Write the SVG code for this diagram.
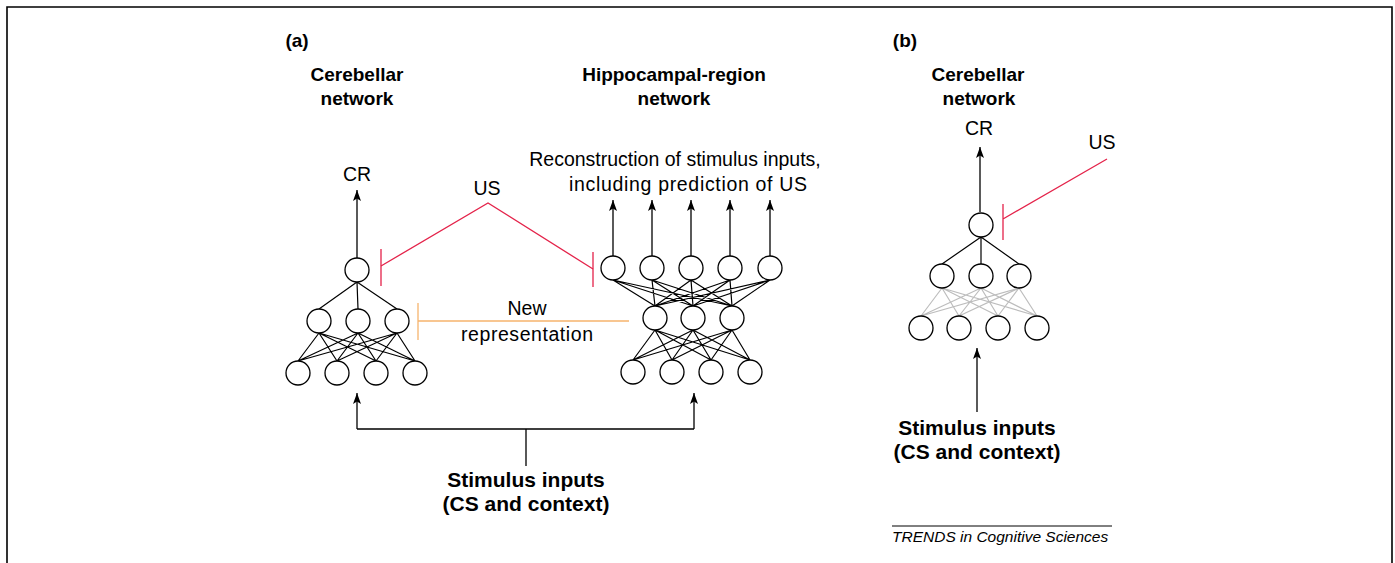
<svg xmlns="http://www.w3.org/2000/svg" width="1395" height="563" viewBox="0 0 1395 563">
  <defs>
    <style>
      .frame { fill: none; stroke: #000; stroke-width: 1.6; }
      .node { fill: #fff; stroke: #000; stroke-width: 1.3; }
      .wire { stroke: #000; stroke-width: 1.2; fill: none; }
      .wire-grey { stroke: #bdbdbd; stroke-width: 1.2; fill: none; }
      .arrow { stroke: #000; stroke-width: 1.3; fill: none; marker-end: url(#head); }
      .us { stroke: #e4234a; stroke-width: 1.3; fill: none; }
      .newrep { stroke: #f6b46e; stroke-width: 1.3; fill: none; }
      .title { font-family: "Liberation Sans", Arial, sans-serif; font-weight: bold; font-size: 19px; fill: #000; text-anchor: middle; }
      .label { font-family: "Liberation Sans", Arial, sans-serif; font-size: 19.5px; fill: #000; text-anchor: middle; }
      .input { font-family: "Liberation Sans", Arial, sans-serif; font-weight: bold; font-size: 21px; fill: #000; text-anchor: middle; }
      .credit { font-family: "Liberation Sans", Arial, sans-serif; font-style: italic; font-size: 15.5px; fill: #000; }
    </style>
    <marker id="head" markerUnits="userSpaceOnUse" markerWidth="12" markerHeight="10" refX="11" refY="4" orient="auto">
      <path d="M0,0 L11,4 L0,8 L2.5,4 z" fill="#000"/>
    </marker>
  </defs>

  <!-- outer border (open at the bottom edge) -->
  <path class="frame" d="M7,570 V7 H1392 V570"/>

  <!-- panel labels and titles -->
  <g id="labels">
    <text class="title" x="297" y="47">(a)</text>
    <text class="title" x="905" y="47">(b)</text>
    <text class="title" x="357" y="81">Cerebellar</text>
    <text class="title" x="357" y="105">network</text>
    <text class="title" x="674" y="81">Hippocampal-region</text>
    <text class="title" x="674" y="105">network</text>
    <text class="title" x="978" y="81">Cerebellar</text>
    <text class="title" x="979" y="105">network</text>
  </g>

  <!-- connectors -->
  <g id="connectors">
    <!-- (a) cerebellar: top to middle -->
    <path class="wire" d="M357,282 L319,309 M357,282 L358,309 M357,282 L397,309"/>
    <!-- (a) cerebellar: middle to bottom, all-to-all -->
    <path class="wire" d="M319,333 L298,361 M319,333 L337,361 M319,333 L376,361 M319,333 L415,361
                          M358,333 L298,361 M358,333 L337,361 M358,333 L376,361 M358,333 L415,361
                          M397,333 L298,361 M397,333 L337,361 M397,333 L376,361 M397,333 L415,361"/>
    <!-- (a) hippocampal: top row to middle, all-to-all -->
    <path class="wire" d="M613,280 L655,306 M613,280 L693,306 M613,280 L732,306
                          M652,280 L655,306 M652,280 L693,306 M652,280 L732,306
                          M691,280 L655,306 M691,280 L693,306 M691,280 L732,306
                          M730,280 L655,306 M730,280 L693,306 M730,280 L732,306
                          M770,280 L655,306 M770,280 L693,306 M770,280 L732,306"/>
    <!-- (a) hippocampal: middle to bottom, all-to-all -->
    <path class="wire" d="M655,330 L633,360 M655,330 L672,360 M655,330 L711,360 M655,330 L750,360
                          M693,330 L633,360 M693,330 L672,360 M693,330 L711,360 M693,330 L750,360
                          M732,330 L633,360 M732,330 L672,360 M732,330 L711,360 M732,330 L750,360"/>
    <!-- (a) outputs -->
    <line class="arrow" x1="357" y1="258" x2="357" y2="190"/>
    <line class="arrow" x1="613" y1="256" x2="613" y2="200"/>
    <line class="arrow" x1="652" y1="256" x2="652" y2="200"/>
    <line class="arrow" x1="691" y1="256" x2="691" y2="200"/>
    <line class="arrow" x1="730" y1="256" x2="730" y2="200"/>
    <line class="arrow" x1="770" y1="256" x2="770" y2="200"/>
    <!-- (a) US teaching signal to both networks -->
    <path class="us" d="M381,266 L488,203 L593,269"/>
    <path class="us" d="M381,249 V286 M593,252 V287"/>
    <!-- (a) new representation fed back to the cerebellum -->
    <path class="newrep" d="M418,321 H629 M418,303 V340"/>
    <!-- (a) shared stimulus inputs -->
    <path class="wire" d="M526,466 V429 M357,429 H694" style="stroke-width:1.3"/>
    <line class="arrow" x1="357" y1="429" x2="357" y2="393"/>
    <line class="arrow" x1="694" y1="429" x2="694" y2="393"/>

    <!-- (b) cerebellar: top to middle -->
    <path class="wire" d="M981,237 L942,264 M981,237 L981,264 M981,237 L1019,264"/>
    <!-- (b) cerebellar: middle to bottom (grey) -->
    <path class="wire-grey" d="M942,288 L921,316 M942,288 L959,316 M942,288 L998,316 M942,288 L1037,316
                               M981,288 L921,316 M981,288 L959,316 M981,288 L998,316 M981,288 L1037,316
                               M1019,288 L921,316 M1019,288 L959,316 M1019,288 L998,316 M1019,288 L1037,316"/>
    <line class="arrow" x1="980" y1="212" x2="980" y2="147"/>
    <path class="us" d="M1107,159 L1003,219 M1003,204 V240"/>
    <line class="arrow" x1="977" y1="412" x2="977" y2="348"/>
  </g>

  <!-- (a) cerebellar network nodes -->
  <g id="cerebellar-a">
    <circle class="node" cx="357" cy="270" r="12"/>
    <circle class="node" cx="319" cy="321" r="12"/>
    <circle class="node" cx="358" cy="321" r="12"/>
    <circle class="node" cx="397" cy="321" r="12"/>
    <circle class="node" cx="298" cy="373" r="12"/>
    <circle class="node" cx="337" cy="373" r="12"/>
    <circle class="node" cx="376" cy="373" r="12"/>
    <circle class="node" cx="415" cy="373" r="12"/>
  </g>

  <!-- (a) hippocampal-region network nodes -->
  <g id="hippocampal-a">
    <circle class="node" cx="613" cy="268" r="12"/>
    <circle class="node" cx="652" cy="268" r="12"/>
    <circle class="node" cx="691" cy="268" r="12"/>
    <circle class="node" cx="730" cy="268" r="12"/>
    <circle class="node" cx="770" cy="268" r="12"/>
    <circle class="node" cx="655" cy="318" r="12"/>
    <circle class="node" cx="693" cy="318" r="12"/>
    <circle class="node" cx="732" cy="318" r="12"/>
    <circle class="node" cx="633" cy="372" r="12"/>
    <circle class="node" cx="672" cy="372" r="12"/>
    <circle class="node" cx="711" cy="372" r="12"/>
    <circle class="node" cx="750" cy="372" r="12"/>
  </g>

  <!-- (b) cerebellar network nodes -->
  <g id="cerebellar-b">
    <circle class="node" cx="981" cy="225" r="12"/>
    <circle class="node" cx="942" cy="276" r="12"/>
    <circle class="node" cx="981" cy="276" r="12"/>
    <circle class="node" cx="1019" cy="276" r="12"/>
    <circle class="node" cx="921" cy="328" r="12"/>
    <circle class="node" cx="959" cy="328" r="12"/>
    <circle class="node" cx="998" cy="328" r="12"/>
    <circle class="node" cx="1037" cy="328" r="12"/>
  </g>

  <!-- signal labels -->
  <g id="signal-labels">
    <text class="label" x="357" y="181">CR</text>
    <text class="label" x="487" y="195">US</text>
    <text class="label" x="675" y="166">Reconstruction of stimulus inputs,</text>
    <text class="label" x="688" y="191" textLength="238" lengthAdjust="spacing">including prediction of US</text>
    <text class="label" x="527" y="315">New</text>
    <text class="label" x="527" y="341" textLength="132" lengthAdjust="spacing">representation</text>
    <text class="label" x="979" y="135">CR</text>
    <text class="label" x="1102" y="149">US</text>
  </g>

  <!-- stimulus input labels -->
  <g id="inputs">
    <text class="input" x="526" y="487">Stimulus inputs</text>
    <text class="input" x="526" y="511">(CS and context)</text>
    <text class="input" x="977" y="435">Stimulus inputs</text>
    <text class="input" x="977" y="459">(CS and context)</text>
  </g>

  <!-- journal credit line -->
  <g id="credit">
    <line x1="892" y1="526" x2="1112" y2="526" stroke="#000" stroke-width="1"/>
    <text class="credit" x="892" y="542">TRENDS in Cognitive Sciences</text>
  </g>
</svg>
